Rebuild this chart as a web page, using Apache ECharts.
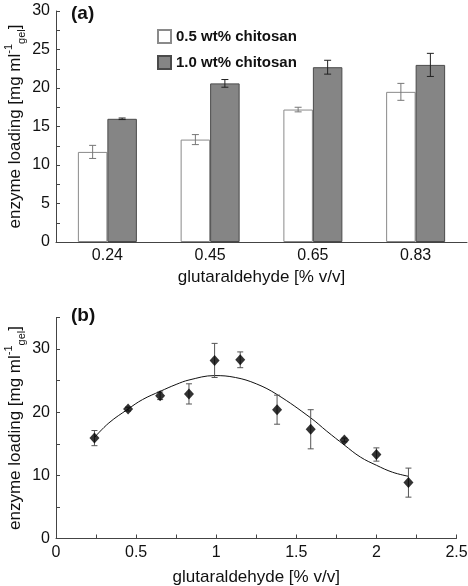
<!DOCTYPE html>
<html><head><meta charset="utf-8">
<script src="https://cdn.jsdelivr.net/npm/echarts@6/dist/echarts.min.js"></script>
<style>html,body{margin:0;padding:0;background:#fff}#c{width:468px;height:586px}</style>
</head><body><div id="c"></div>
<script>
// ---- Panel (a) data ----
const categories = ['0.24', '0.45', '0.65', '0.83'];
const lowChitosan = [11.7, 13.3, 17.2, 19.5];
const lowChitosanErr = [0.85, 0.65, 0.3, 1.1];
const highChitosan = [16.0, 20.6, 22.7, 23.0];
const highChitosanErr = [0.1, 0.5, 0.9, 1.5];
const seriesNames = ['0.5 wt% chitosan', '1.0 wt% chitosan'];

// ---- Panel (b) data ----
const glutX = [0.24, 0.45, 0.65, 0.83, 0.99, 1.15, 1.38, 1.59, 1.80, 2.00, 2.20];
const loadY = [15.9, 20.5, 22.6, 22.9, 28.2, 28.3, 20.4, 17.3, 15.6, 13.3, 8.85];
const loadErr = [1.2, 0.3, 0.6, 1.6, 2.7, 1.25, 2.3, 3.1, 0.3, 1.05, 2.3];
const fitX = [0.24, 0.33, 0.45, 0.54, 0.65, 0.75, 0.83, 0.99, 1.12, 1.25, 1.38, 1.59, 1.69, 1.80, 1.90, 2.00, 2.10, 2.20];
const fitY = [16.0, 18.3, 20.5, 22.0, 23.3, 24.4, 25.1, 25.8, 25.5, 24.5, 22.8, 19.1, 17.0, 14.8, 12.9, 11.6, 10.5, 9.85];

const FONT = '"Liberation Sans", Arial, Helvetica, sans-serif';
const AX = '#444';
const TXT = '#111';

const chart = echarts.init(document.getElementById('c'), null, {renderer: 'canvas'});

const yName = 'enzyme loading [mg ml{sup|-1}{sub|gel}]';
const yNameStyle = {
  fontSize: 17, fontFamily: FONT, color: TXT, lineHeight: 24,
  rich: {
    sup: {fontSize: 11, fontFamily: FONT, color: TXT, verticalAlign: 'top', lineHeight: 24},
    sub: {fontSize: 11, fontFamily: FONT, color: TXT, verticalAlign: 'bottom', lineHeight: 24}
  }
};

function barErr(vals, errs, offset, color) {
  return {
    type: 'custom',
    xAxisIndex: 0, yAxisIndex: 0,
    silent: true, z: 5,
    data: vals.map((v, i) => [i, v, errs[i]]),
    renderItem: function (params, api) {
      const c = api.value(0), v = api.value(1), e = api.value(2);
      const top = api.coord([c, v + e]);
      const bot = api.coord([c, v - e]);
      const x = top[0] + offset;
      const w = 3.5;
      const st = {stroke: color, lineWidth: 1};
      return {type: 'group', children: [
        {type: 'line', shape: {x1: x, y1: top[1], x2: x, y2: bot[1]}, style: st},
        {type: 'line', shape: {x1: x - w, y1: top[1], x2: x + w, y2: top[1]}, style: st},
        {type: 'line', shape: {x1: x - w, y1: bot[1], x2: x + w, y2: bot[1]}, style: st}
      ]};
    }
  };
}

const option = {
  animation: false,
  backgroundColor: '#fff',
  textStyle: {fontFamily: FONT},
  graphic: [
    {type: 'text', left: 71, top: 4, style: {text: '(a)', font: 'bold 19px ' + FONT, fill: TXT}},
    {type: 'text', left: 71, top: 306, style: {text: '(b)', font: 'bold 19px ' + FONT, fill: TXT}}
  ],
  legend: {
    show: true,
    data: seriesNames,
    orient: 'vertical',
    left: 152, top: 24,
    itemWidth: 13, itemHeight: 13, itemGap: 11,
    icon: 'rect',
    textStyle: {fontSize: 15, fontWeight: 'bold', fontFamily: FONT, color: TXT},
    selectedMode: false
  },
  grid: [
    {left: 56, right: 1, top: 11, bottom: 344, containLabel: false, outerBoundsMode: 'none'},
    {left: 56, right: 11.5, top: 317.5, bottom: 47.5, containLabel: false, outerBoundsMode: 'none'}
  ],
  xAxis: [
    {
      type: 'category', gridIndex: 0, data: categories,
      boundaryGap: true,
      axisLine: {lineStyle: {color: AX, width: 1}},
      axisTick: {show: false},
      axisLabel: {fontSize: 16, fontFamily: FONT, color: TXT, margin: 6},
      name: 'glutaraldehyde [% v/v]', nameLocation: 'middle', nameGap: 27,
      nameTextStyle: {fontSize: 17, fontFamily: FONT, color: TXT}
    },
    {
      type: 'value', gridIndex: 1, min: 0, max: 2.5, interval: 0.25,
      axisLine: {lineStyle: {color: AX, width: 1}},
      axisTick: {inside: true, length: 4, lineStyle: {color: AX}},
      splitLine: {show: false},
      axisLabel: {fontSize: 16, fontFamily: FONT, color: TXT, margin: 6, showMaxLabel: true, showMinLabel: true,
        formatter: function (v) { const d = v * 2; return Math.abs(d - Math.round(d)) < 1e-6 ? String(Math.round(d) / 2) : ''; }},
      name: 'glutaraldehyde [% v/v]', nameLocation: 'middle', nameGap: 30,
      nameTextStyle: {fontSize: 17, fontFamily: FONT, color: TXT}
    }
  ],
  yAxis: [
    {
      type: 'value', gridIndex: 0, min: 0, max: 30, interval: 2.5,
      axisLine: {show: true, lineStyle: {color: AX, width: 1}},
      axisTick: {show: true, inside: true, length: 4, lineStyle: {color: AX}},
      splitLine: {show: false},
      axisLabel: {fontSize: 16, fontFamily: FONT, color: TXT, margin: 6,
        formatter: function (v) { return Math.abs(v / 5 - Math.round(v / 5)) < 1e-6 ? String(v) : ''; }},
      name: yName, nameLocation: 'middle', nameGap: 29, nameRotate: 90, nameMoveOverlap: false,
      nameTextStyle: yNameStyle
    },
    {
      type: 'value', gridIndex: 1, min: 0, max: 35, interval: 5,
      axisLine: {show: true, lineStyle: {color: AX, width: 1}},
      axisTick: {show: true, inside: true, length: 4, lineStyle: {color: AX}},
      splitLine: {show: false},
      axisLabel: {fontSize: 16, fontFamily: FONT, color: TXT, margin: 6,
        formatter: function (v) { return Math.abs(v / 10 - Math.round(v / 10)) < 1e-6 ? String(v) : ''; }},
      name: yName, nameLocation: 'middle', nameGap: 29, nameRotate: 90, nameMoveOverlap: false,
      nameTextStyle: yNameStyle
    }
  ],
  series: [
    {
      name: seriesNames[0], type: 'bar', xAxisIndex: 0, yAxisIndex: 0,
      data: lowChitosan, barWidth: 29.5, barGap: '0%',
      itemStyle: {color: '#ffffff', borderColor: '#8a8a8a', borderWidth: 1}
    },
    {
      name: seriesNames[1], type: 'bar', xAxisIndex: 0, yAxisIndex: 0,
      data: highChitosan, barWidth: 29.5, barGap: '0%',
      itemStyle: {color: '#858585', borderColor: '#4a4a4a', borderWidth: 1}
    },
    barErr(lowChitosan, lowChitosanErr, -14.75, '#777'),
    barErr(highChitosan, highChitosanErr, 14.75, '#222'),
    {
      type: 'line', xAxisIndex: 1, yAxisIndex: 1,
      data: fitX.map((x, i) => [x, fitY[i]]),
      smooth: 0.4, showSymbol: false, symbol: 'none',
      lineStyle: {color: '#111', width: 1}, z: 3
    },
    {
      type: 'custom', xAxisIndex: 1, yAxisIndex: 1, silent: true, z: 4,
      data: glutX.map((x, i) => [x, loadY[i], loadErr[i]]),
      renderItem: function (params, api) {
        const x = api.value(0), v = api.value(1), e = api.value(2);
        const top = api.coord([x, v + e]);
        const bot = api.coord([x, v - e]);
        const w = 3;
        const st = {stroke: '#555', lineWidth: 1};
        return {type: 'group', children: [
          {type: 'line', shape: {x1: top[0], y1: top[1], x2: top[0], y2: bot[1]}, style: st},
          {type: 'line', shape: {x1: top[0] - w, y1: top[1], x2: top[0] + w, y2: top[1]}, style: st},
          {type: 'line', shape: {x1: top[0] - w, y1: bot[1], x2: top[0] + w, y2: bot[1]}, style: st}
        ]};
      }
    },
    {
      type: 'scatter', xAxisIndex: 1, yAxisIndex: 1, z: 6,
      data: glutX.map((x, i) => [x, loadY[i]]),
      symbol: 'diamond', symbolSize: [10, 11],
      itemStyle: {color: '#000'}
    }
  ]
};
chart.setOption(option);
</script>
</body></html>
